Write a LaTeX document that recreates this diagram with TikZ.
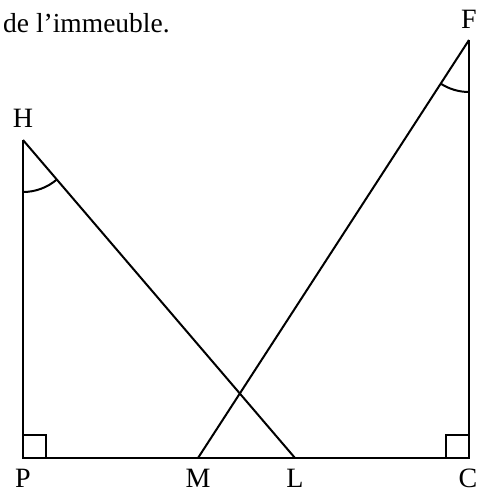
\documentclass[tikz,border=0pt]{standalone}
\usepackage{fontspec}
\setmainfont{Liberation Serif}
\usetikzlibrary{angles}

\begin{document}
\begin{tikzpicture}[
    x=1pt, y=-1pt,
    seg/.style       = {line width=2pt, line join=miter},
    lbl/.style       = {font=\fontsize{28}{32}\selectfont, inner sep=0pt},
    anglemark/.style = {line width=2pt, angle radius=52pt},
]
\useasboundingbox (0,0) rectangle (478,493);

% text above the figure
\node[lbl, font=\fontsize{27.5}{32}\selectfont, anchor=base west] (txt) at (3,32) {de l'immeuble.};

% points
\coordinate (P) at (23,458);
\coordinate (H) at (23,140);
\coordinate (M) at (198,458);
\coordinate (L) at (295,458);
\coordinate (C) at (469,458);
\coordinate (F) at (469,40);

% point labels
\node[lbl] (labH) at (23,118)  {H};
\node[lbl] (labF) at (469,19)  {F};
\node[lbl] (labP) at (23,478)  {P};
\node[lbl] (labM) at (198,478) {M};
\node[lbl] (labL) at (295,478) {L};
\node[lbl] (labC) at (468,478) {C};

% sides
\draw[seg] (H) -- (P) -- (C) -- (F);
\draw[seg] (H) -- (L);
\draw[seg] (M) -- (F);
\draw[line width=2.6pt] (M) -- (L);

% right angles
\draw[seg] (P) ++(0,-23) -- ++(23,0) -- ++(0,23);
\draw[seg] (C) ++(0,-23) -- ++(-23,0) -- ++(0,23);

% angle marks
\pic[draw, anglemark] {angle = P--H--L};
\pic[draw, anglemark] {angle = M--F--C};

\end{tikzpicture}
\end{document}
